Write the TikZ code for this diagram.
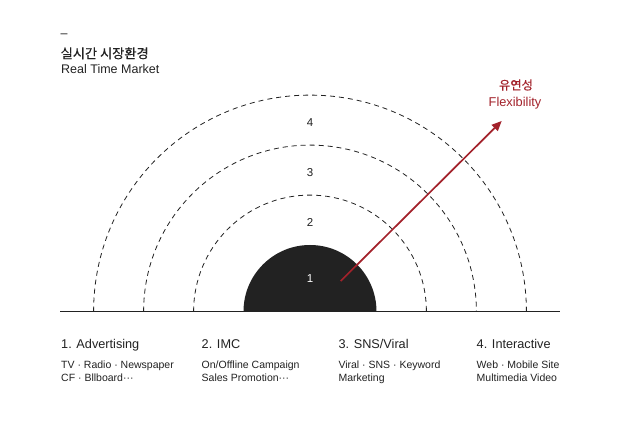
\documentclass[tikz,border=0pt]{standalone}
\usepackage{fontspec}
\setmainfont{Liberation Sans}
\newfontfamily\kr[FakeBold=0.4]{Noto Sans CJK KR}
\usetikzlibrary{arrows.meta}
\definecolor{ink}{HTML}{222222}
\definecolor{flexred}{HTML}{A3222B}
\newcommand{\mydots}{···}
\tikzset{
  ringarc/.style={draw=ink, line width=0.8pt, dash pattern=on 5pt off 4pt},
  ringlabel/.style={text=ink, font=\fontsize{11.5}{12}\selectfont, inner sep=0pt},
  titletext/.style={text=ink, anchor=west, inner sep=0pt, font=\fontsize{12.5}{14}\selectfont},
  colhead/.style={text=ink, anchor=base west, inner sep=0pt, font=\fontsize{12.7}{14}\selectfont},
  colsub/.style={text=ink, anchor=base west, inner sep=0pt, font=\fontsize{10.5}{12}\selectfont},
  flexlabel/.style={text=flexred, inner sep=0pt},
  flexarrow/.style={draw=flexred, line width=1.7pt, -{Triangle[length=10pt,width=8.5pt]}},
}
\begin{document}
\begin{tikzpicture}[x=1pt,y=1pt]
\useasboundingbox[fill=white] (0,0) rectangle (620,420);
% centre and baseline
\coordinate (C) at (310,108.5);
\coordinate (BL) at (60,108.5);
\coordinate (BR) at (560,108.5);
% filled core
\fill[ink] (243.5,108.5) arc[start angle=180,end angle=0,radius=66.5pt] -- cycle;
% dashed rings
\draw[ringarc] (193.6,108.5) arc[start angle=180,end angle=0,radius=116.4pt];
\draw[ringarc] (143.6,108.5) arc[start angle=180,end angle=0,radius=166.4pt];
\draw[ringarc] (93.6,108.5) arc[start angle=180,end angle=0,radius=216.4pt];
% baseline
\draw[ink, line width=0.9pt] (BL) -- (BR);
% ring labels
\node[ringlabel, text=white] (n1) at (310,141.7) {1};
\node[ringlabel] (n2) at (310,197.3) {2};
\node[ringlabel] (n3) at (310,247.7) {3};
\node[ringlabel] (n4) at (310,297.3) {4};
% flexibility arrow
\coordinate (fs) at (340.7,139);
\coordinate (ft) at (501.7,299);
\draw[flexarrow] (fs) -- (ft);
\node[flexlabel, font=\kr\fontsize{12.3}{14}\selectfont] (flexkr) at (516,335) {유연성};
\node[flexlabel, font=\fontsize{12.8}{14}\selectfont] (flexen) at (515,316.7) {Flexibility};
% title
\node[titletext] (tdash) at (60.5,384) {–};
\node[titletext, font=\kr\fontsize{13.2}{14}\selectfont] (tkr) at (60.5,366.7) {실시간 시장환경};
\node[titletext, anchor=base west] (ten) at (61,346.2) {Real Time Market};
% columns
\node[colhead] (h1) at (61,72) {1. Advertising};
\node[colsub] (s1a) at (61,51.3) {TV · Radio · Newspaper};
\node[colsub] (s1b) at (61,39) {CF · Bllboard\mydots};
\node[colhead] (h2) at (201.5,72) {2. IMC};
\node[colsub] (s2a) at (201.5,51.3) {On/Offline Campaign};
\node[colsub] (s2b) at (201.5,39) {Sales Promotion\mydots};
\node[colhead] (h3) at (338.3,72) {3. SNS/Viral};
\node[colsub] (s3a) at (338.3,51.3) {Viral · SNS · Keyword};
\node[colsub] (s3b) at (338.3,39) {Marketing};
\node[colhead] (h4) at (476.5,72) {4. Interactive};
\node[colsub] (s4a) at (476.5,51.3) {Web · Mobile Site};
\node[colsub] (s4b) at (476.5,39) {Multimedia Video};
\end{tikzpicture}
\end{document}
